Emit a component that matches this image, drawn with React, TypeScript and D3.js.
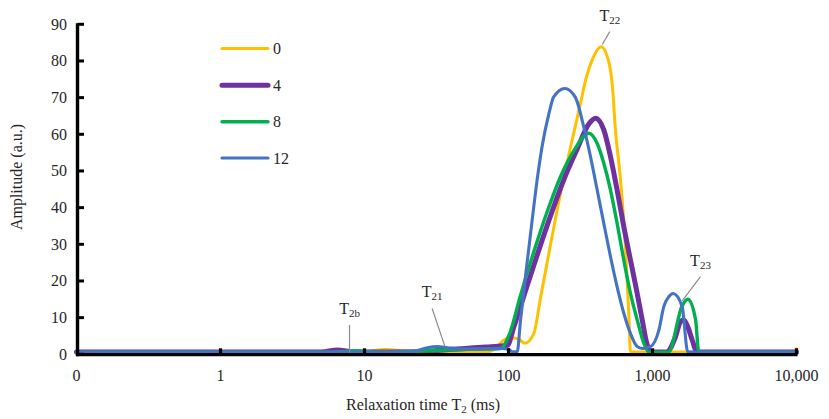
import React from "react";
import * as d3 from "d3";

// ---- data ----
const seriesNames = ["0", "4", "8", "12"];
const seriesColors = ["#FFC000", "#7030A0", "#00B050", "#4472C4"];
const seriesWidths = [3, 5, 3.4, 3.1];

const T_0 = [0.1, 8, 11, 14, 18, 23, 70, 82, 92, 103, 117, 130, 150, 167, 196, 230, 270, 316, 343, 383, 440, 495, 527, 553, 600, 649, 684, 703, 9600, 10000];
const A_0 = [0.6, 0.6, 0.9, 1.3, 1.0, 0.6, 0.6, 1.8, 3.8, 4.5, 4.2, 3.0, 5.7, 15.5, 30, 44, 56.6, 68.4, 74.8, 80.5, 83.9, 80, 73, 61.2, 47.5, 29.3, 11.2, 0.6, 0.6, 1.5];

const T_4 = [0.1, 5, 6.5, 8, 12, 25, 35, 50, 70, 85, 98, 109, 128, 158, 196, 242, 300, 361, 402, 459, 511, 568, 632, 703, 783, 848, 913, 969, 1250, 1445, 1565, 1649, 1758, 1887, 2044, 10000];
const A_4 = [0.6, 0.6, 1.2, 0.7, 0.6, 0.7, 1.2, 1.6, 2.0, 2.2, 2.4, 7.5, 16, 27, 37.8, 47.6, 56, 62.8, 64.4, 61.2, 53.9, 44.8, 34.8, 25.7, 16.6, 9.4, 3.0, 0.6, 0.6, 4.8, 8.9, 9.35, 7.5, 3.9, 0.6, 0.6];

const T_8 = [0.1, 6, 7.2, 8.7, 10.5, 14, 25, 40, 60, 88, 102, 121, 150, 186, 230, 284, 361, 413, 459, 511, 568, 632, 703, 783, 871, 944, 1291, 1607, 1758, 1990, 2097, 10000];
const A_8 = [0.6, 0.6, 0.8, 1.0, 0.7, 0.6, 0.9, 1.2, 1.4, 1.6, 5.7, 16, 28, 39, 48.5, 55.5, 60.3, 57.5, 52.1, 44.8, 35.7, 25.7, 16.6, 9.4, 3.0, 0.6, 0.6, 13.2, 15, 9.5, 0.6, 0.6];

const T_12 = [0.1, 20.9, 23.3, 27.4, 32.1, 37.7, 44.3, 64, 90, 100, 106, 115, 121, 131, 146, 158, 171, 191, 206, 246, 292, 333, 371, 413, 459, 511, 568, 632, 703, 783, 848, 969, 1106, 1198, 1297, 1392, 1607, 1758, 10000];
const A_12 = [0.6, 0.6, 1.0, 1.8, 2.1, 1.8, 1.5, 1.4, 1.6, 1.4, 0.7, 0.7, 9, 21, 36.6, 47.5, 56.6, 65.7, 70.2, 72.5, 70, 62, 53.9, 44.8, 35.7, 26.6, 18.4, 11.2, 5.7, 2.1, 1.6, 2.1, 6.5, 13, 15.7, 16.6, 13, 0.6, 0.6];

const seriesT = [T_0, T_4, T_8, T_12];
const seriesA = [A_0, A_4, A_8, A_12];

const xTickValues = [0.1, 1, 10, 100, 1000, 10000];
const xTickLabels = ["0", "1", "10", "100", "1,000", "10,000"];
const yTickValues = [0, 10, 20, 30, 40, 50, 60, 70, 80, 90];

// annotations: label, subscript, line top (T, amp), line bottom (T, amp)
const annLabels = ["T", "T", "T", "T"];
const annSubs = ["2b", "21", "22", "23"];
const annTopT = [7.87, 29.5, 505, 2154];
const annTopA = [8.0, 12.5, 88.0, 21.2];
const annBotT = [7.87, 36.2, 448, 1607];
const annBotA = [0.4, 2.1, 84.5, 14.6];

const FONT = "Liberation Serif, Times New Roman, Times, DejaVu Serif, serif";

export default function App() {
  const W = 829, H = 419;
  const x = d3.scaleLog().domain([0.1, 10000]).range([76.5, 796.5]);
  const y = d3.scaleLinear().domain([0, 90]).range([354.3, 24.3]);
  const line = d3
    .line<[number, number]>()
    .x((d) => x(d[0]))
    .y((d) => y(d[1]))
    .curve(d3.curveMonotoneX);

  const legendY = [48.5, 85.3, 121.7, 158];
  const txt = { fontFamily: FONT, fill: "#262626" } as React.CSSProperties;

  return (
    <svg
      width={W}
      height={H}
      style={{ position: "absolute", left: 0, top: 0, background: "#fff", fontFamily: FONT }}
    >
      <rect x={0} y={0} width={W} height={H} fill="#fff" />
      {/* series */}
      {seriesT.map((ts, i) => {
        const pts = ts.map((t, j) => [t, seriesA[i][j]] as [number, number]);
        return (
          <path
            key={i}
            d={line(pts) || ""}
            fill="none"
            stroke={seriesColors[i]}
            strokeWidth={seriesWidths[i]}
            strokeLinejoin="round"
            strokeLinecap="round"
          />
        );
      })}
      {/* axes */}
      <line x1={x(0.1)} x2={x(10000) + 1} y1={y(0) + 0.3} y2={y(0) + 0.3} stroke="#000" strokeWidth={3.4} />
      <line x1={77.5} x2={77.5} y1={y(90) - 1} y2={y(0) + 2} stroke="#000" strokeWidth={3.4} />
      {yTickValues.map((v) => (
        <g key={v}>
          <line x1={77.5} x2={84} y1={y(v)} y2={y(v)} stroke="#000" strokeWidth={3} />
          <text x={67} y={y(v) + 5.5} fontSize={16} textAnchor="end" style={txt}>
            {v}
          </text>
        </g>
      ))}
      {xTickValues.map((v, i) => (
        <g key={v}>
          {i > 0 && (
            <rect x={x(v) - 1.6} y={y(0) - 6} width={3.2} height={6} fill="#000" />
          )}
          <text x={x(v)} y={380.5} fontSize={16} textAnchor="middle" style={txt}>
            {xTickLabels[i]}
          </text>
        </g>
      ))}
      {/* axis titles */}
      <text x={423} y={410} fontSize={16} textAnchor="middle" style={txt}>
        Relaxation time T
        <tspan fontSize={11} dy={3}>2</tspan>
        <tspan dy={-3}> (ms)</tspan>
      </text>
      <text
        transform={`translate(21.5,177) rotate(-90)`}
        fontSize={16}
        textAnchor="middle"
        style={txt}
      >
        Amplitude (a.u.)
      </text>
      {/* legend */}
      {seriesNames.map((n, i) => (
        <g key={n}>
          <line
            x1={222}
            x2={268}
            y1={legendY[i]}
            y2={legendY[i]}
            stroke={seriesColors[i]}
            strokeWidth={seriesWidths[i]}
            strokeLinecap="round"
          />
          <text x={273} y={legendY[i] + 5.5} fontSize={16} style={txt}>
            {n}
          </text>
        </g>
      ))}
      {/* annotations */}
      {annLabels.map((l, i) => (
        <g key={i}>
          <line
            x1={x(annTopT[i])}
            y1={y(annTopA[i])}
            x2={x(annBotT[i])}
            y2={y(annBotA[i])}
            stroke="#8c8c8c"
            strokeWidth={1.2}
          />
          <text
            x={x(annTopT[i])}
            y={y(annTopA[i]) - 11}
            fontSize={16}
            textAnchor="middle"
            style={txt}
          >
            {l}
            <tspan fontSize={11} dy={3}>{annSubs[i]}</tspan>
          </text>
        </g>
      ))}
    </svg>
  );
}
